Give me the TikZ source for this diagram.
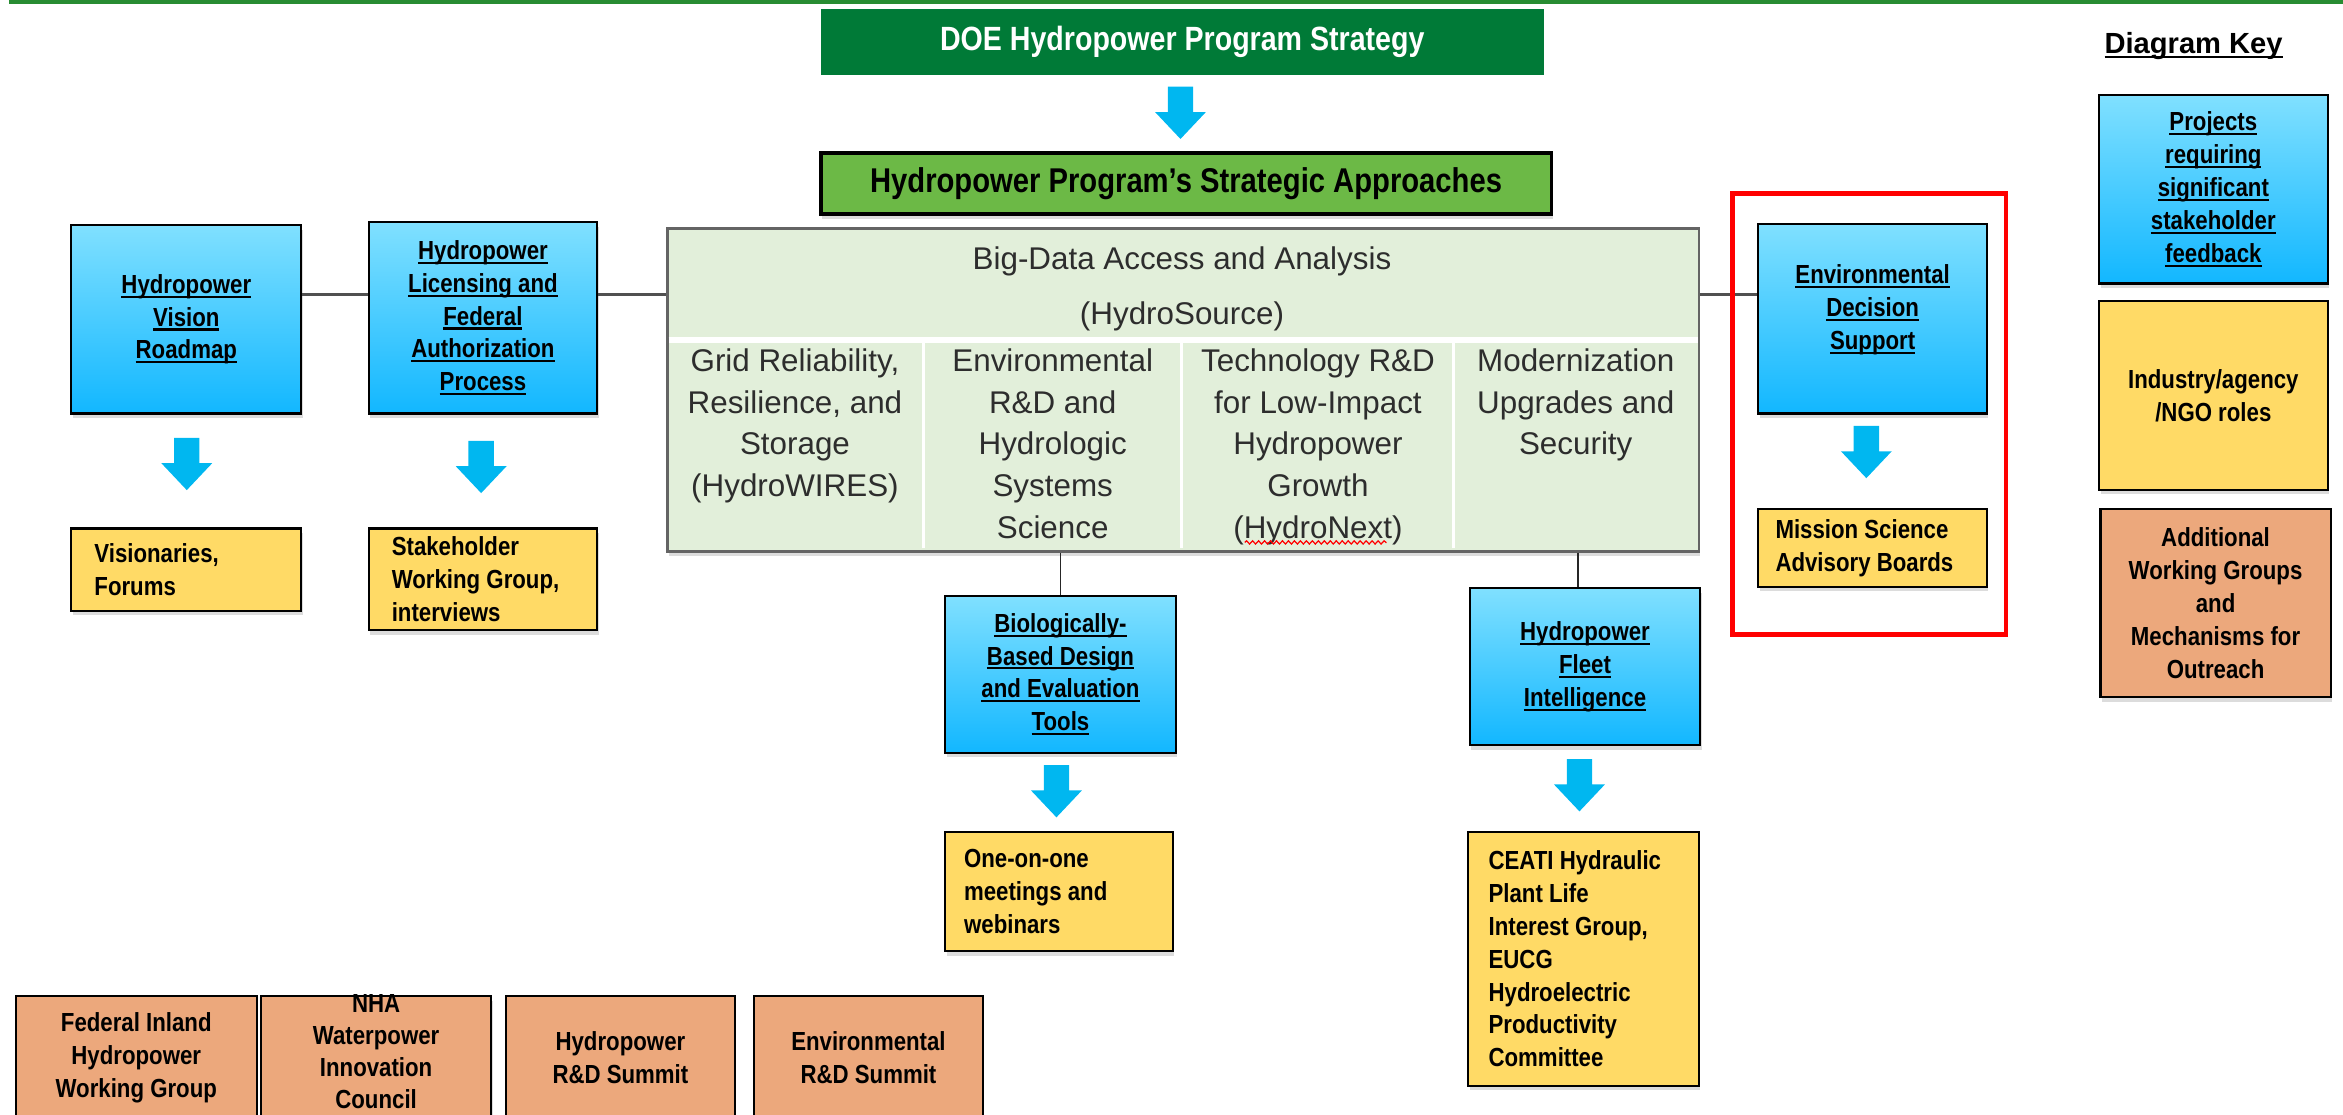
\documentclass[tikz,border=0pt]{standalone}
\usepackage{fontspec}
\setmainfont{Liberation Sans}
\newfontfamily\condfont{Liberation Sans}[FakeStretch=0.85]
\usetikzlibrary{shadows,decorations.pathmorphing}

\definecolor{doegreen}{RGB}{0,122,55}
\definecolor{stratgreen}{RGB}{108,185,70}
\definecolor{rulegreen}{RGB}{40,140,50}
\definecolor{tablefill}{RGB}{226,239,218}
\definecolor{tableedge}{RGB}{100,100,100}
\definecolor{bluetop}{RGB}{128,224,255}
\definecolor{bluebot}{RGB}{18,183,255}
\definecolor{arrowblue}{RGB}{0,183,240}
\definecolor{yellowfill}{RGB}{255,218,102}
\definecolor{orangefill}{RGB}{236,168,124}
\definecolor{linkgray}{RGB}{80,80,80}
\definecolor{celltextcolor}{RGB}{45,45,45}

% underlined line of text
\newcommand{\ulin}[1]{\begingroup\setbox0=\hbox{#1}\rlap{\rule[-3pt]{\wd0}{1.4pt}}\box0\endgroup}

\tikzset{
  boxdim/.style 2 args={minimum width=#1, minimum height=#2},
  softshadow/.style={drop shadow={opacity=0.28, shadow xshift=1pt, shadow yshift=-3pt}},
  card/.style={draw=black, line width=1.4pt, inner sep=0pt, anchor=north west,
    font=\condfont\bfseries\fontsize{17.5}{22}\selectfont, softshadow},
  projectbox/.style={card, top color=bluetop, bottom color=bluebot, align=center},
  rolebox/.style={card, fill=yellowfill, align=center},
  outreachbox/.style={card, fill=orangefill, align=center},
  roletext/.style={font=\condfont\bfseries\fontsize{17.5}{22}\selectfont, align=left, inner sep=0pt, anchor=west},
  celltext/.style={font=\fontsize{21}{28}\selectfont, text=celltextcolor, align=center, inner sep=0pt, anchor=north},
  link/.style={draw=linkgray, line width=2.4pt},
  stem/.style={draw=black!85, line width=1.3pt},
  downarrow/.pic={\fill[arrowblue] (-8.5,0) -- (8.5,0) -- (8.5,17) -- (17,17) -- (0,35) -- (-17,17) -- (-8.5,17) -- cycle;},
}

\begin{document}
\begin{tikzpicture}[x=1pt, y=-1pt]
\useasboundingbox (0,0) rectangle (1568,746);

% rule along the top edge
\draw[rulegreen, line width=2.5pt] (6,1.5) -- (1568,1.5);

% strategy header and approaches banner
\node[fill=doegreen, anchor=north west, boxdim={484pt}{44pt}, inner sep=0pt, text=white,
  font=\condfont\bfseries\fontsize{22.5}{27}\selectfont] (doe) at (549,6) {DOE Hydropower Program Strategy};
\pic at (790,58) {downarrow};
\node[fill=stratgreen, draw=black, line width=2.5pt, anchor=north west, boxdim={489pt}{41pt}, inner sep=0pt,
  font=\condfont\bfseries\fontsize{23}{27}\selectfont, softshadow] (strat) at (548,101) {Hydropower Program’s Strategic Approaches};

% approaches table
\node[fill=tablefill, draw=tableedge, line width=2pt, anchor=north west, boxdim={690pt}{216pt}, inner sep=0pt, softshadow] (bigdata) at (446,152) {};
\coordinate (sep) at (0,227.5);
\draw[white, line width=3.5pt] ([xshift=1.5pt]bigdata.west |- sep) -- ([xshift=-1.5pt]bigdata.east |- sep);
\foreach \x in {618,791,973} \draw[white, line width=2pt] (\x,229.5) -- (\x,367);

\node[celltext, font=\fontsize{21}{37}\selectfont] (hydrosource) at (791,165) {Big-Data Access and Analysis\\(HydroSource)};
\node[celltext] (gridcol) at (532,233) {Grid Reliability,\\Resilience, and\\Storage\\(HydroWIRES)};
\node[celltext] (envcol) at (704.5,233) {Environmental\\R\&D and\\Hydrologic\\Systems\\Science};
\node[celltext] (techcol) at (882,233) {Technology R\&D\\for Low-Impact\\Hydropower\\Growth\\(HydroNext)};
\node[celltext] (modcol) at (1054.5,233) {Modernization\\Upgrades and\\Security};
\draw[red, line width=0.8pt, decorate, decoration={snake, amplitude=1.1pt, segment length=4pt}] (833,363) -- (928,363);

% left branch
\node[projectbox, boxdim={154pt}{126pt}] (vision) at (47,150) {\ulin{Hydropower}\\\ulin{Vision}\\\ulin{Roadmap}};
\node[projectbox, boxdim={153pt}{128pt}] (licensing) at (246,148)
  {\ulin{Hydropower}\\\ulin{Licensing and}\\\ulin{Federal}\\\ulin{Authorization}\\\ulin{Process}};
\coordinate (row) at (0,197);
\draw[link] (vision.east |- row) -- (licensing.west |- row);
\draw[link] (licensing.east |- row) -- (bigdata.west |- row);
\pic at (125,293) {downarrow};
\pic at (322,295) {downarrow};
\node[rolebox, boxdim={154pt}{55pt}] (visionaries) at (47,353) {};
\node[roletext] (visionariestext) at ([xshift=16pt]visionaries.west) {Visionaries,\\Forums};
\node[rolebox, boxdim={153pt}{68pt}] (stakeholder) at (246,353) {};
\node[roletext] (stakeholdertext) at ([xshift=16pt]stakeholder.west) {Stakeholder\\Working Group,\\interviews};

% middle branch
\node[projectbox, boxdim={154pt}{105pt}] (biotools) at (632,398)
  {\ulin{Biologically-}\\\ulin{Based Design}\\\ulin{and Evaluation}\\\ulin{Tools}};
\draw[stem] (bigdata.south -| biotools.north) -- (biotools.north);
\pic at (707,512) {downarrow};
\node[rolebox, boxdim={152pt}{80pt}] (meetings) at (632,556) {};
\node[roletext] (meetingstext) at ([xshift=13pt]meetings.west) {One-on-one\\meetings and\\webinars};

\node[projectbox, boxdim={154pt}{105pt}] (fleet) at (983,393) {\ulin{Hydropower}\\\ulin{Fleet}\\\ulin{Intelligence}};
\coordinate (fleetstem) at ([xshift=-4.5pt]fleet.north);
\draw[stem] (bigdata.south -| fleetstem) -- (fleetstem);
\pic at (1057,508) {downarrow};
\node[rolebox, boxdim={154pt}{170pt}] (ceati) at (982,556) {};
\node[roletext] (ceatitext) at ([xshift=14pt]ceati.west)
  {CEATI Hydraulic\\Plant Life\\Interest Group,\\EUCG\\Hydroelectric\\Productivity\\Committee};

% right branch inside its highlight frame
\node[projectbox, boxdim={153pt}{127pt}] (eds) at (1176,149) {};
\node[font=\condfont\bfseries\fontsize{17.5}{22}\selectfont, align=center, inner sep=0pt] (edstext) at ([yshift=6pt]eds.center)
  {\ulin{Environmental}\\\ulin{Decision}\\\ulin{Support}};
\draw[link] (bigdata.east |- row) -- (eds.west |- row);
\node[draw=red, line width=3pt, anchor=north west, boxdim={183pt}{295pt}, inner sep=0pt] (focus) at (1158,128) {};
\pic at (1249,285) {downarrow};
\node[rolebox, boxdim={153pt}{52pt}] (mission) at (1176,340) {};
\node[roletext] (missiontext) at ([xshift=12pt]mission.west) {Mission Science\\Advisory Boards};

% key
\node[font=\bfseries\fontsize{19.5}{24}\selectfont, inner sep=0pt] (keytitle) at (1468,31) {\ulin{Diagram Key}};
\node[projectbox, boxdim={153pt}{126pt}] (keyproject) at (1404,63)
  {\ulin{Projects}\\\ulin{requiring}\\\ulin{significant}\\\ulin{stakeholder}\\\ulin{feedback}};
\node[rolebox, boxdim={153pt}{126pt}] (keyrole) at (1404,201) {Industry/agency\\/NGO roles};
\node[outreachbox, boxdim={154pt}{126pt}] (keyoutreach) at (1405,340)
  {Additional\\Working Groups\\and\\Mechanisms for\\Outreach};

% outreach row along the bottom edge
\node[outreachbox, boxdim={161pt}{82pt}] (fiwg) at (10,666) {Federal Inland\\Hydropower\\Working Group};
\node[outreachbox, boxdim={154pt}{82pt}] (nha) at (174,666) {};
\node[font=\condfont\bfseries\fontsize{17.5}{21.5}\selectfont, align=center, inner sep=0pt] (nhatext) at ([yshift=4pt]nha.center) {NHA\\Waterpower\\Innovation\\Council};
\node[outreachbox, boxdim={153pt}{82pt}] (rdsummit) at (338,666) {Hydropower\\R\&D Summit};
\node[outreachbox, boxdim={153pt}{82pt}] (envsummit) at (504,666) {Environmental\\R\&D Summit};
\end{tikzpicture}
\end{document}
